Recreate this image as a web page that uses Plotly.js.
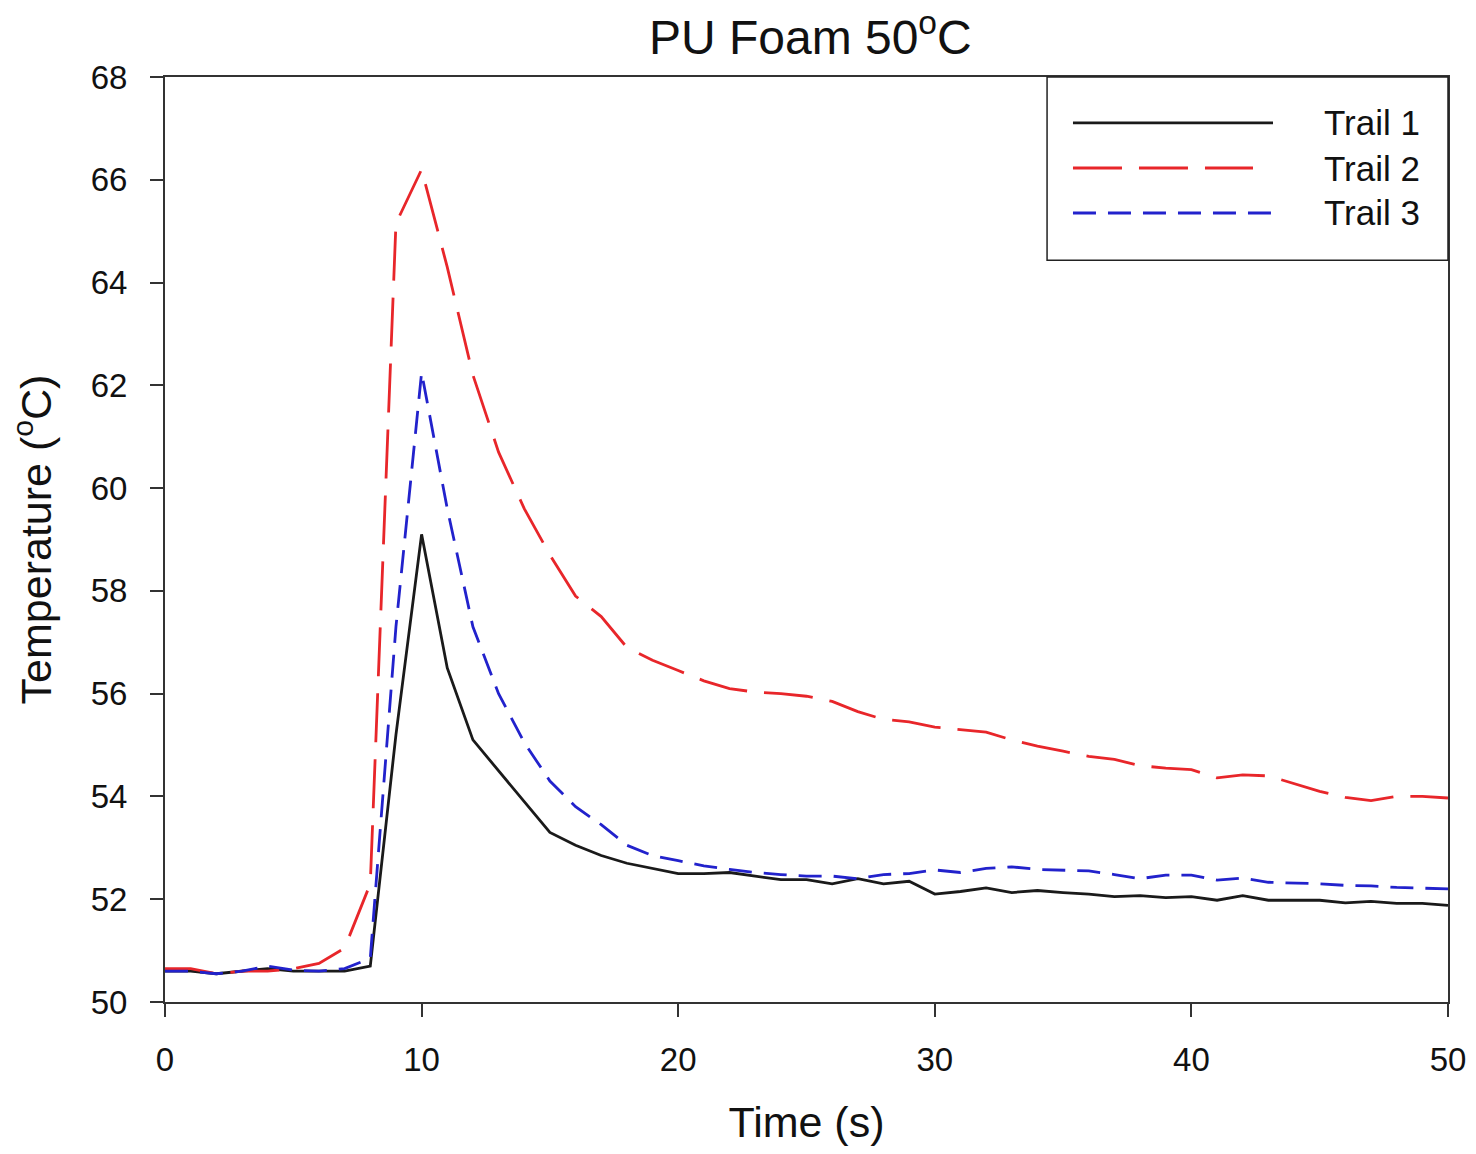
<!DOCTYPE html>
<html>
<head>
<meta charset="utf-8">
<script src="https://cdn.plot.ly/plotly-3.0.1.min.js"></script>
<style>html,body{margin:0;padding:0;background:#fff;}#chart{width:1476px;height:1154px;}</style>
</head>
<body>
<div id="chart"></div>
<script>
const time = [0,1,2,3,4,5,6,7,8,9,10,11,12,13,14,15,16,17,18,19,20,21,22,23,24,25,26,27,28,29,30,31,32,33,34,35,36,37,38,39,40,41,42,43,44,45,46,47,48,49,50];
const trail1 = [50.6,50.6,50.55,50.6,50.65,50.6,50.6,50.6,50.7,55.2,59.1,56.5,55.1,54.5,53.9,53.3,53.05,52.85,52.7,52.6,52.5,52.5,52.52,52.45,52.38,52.38,52.3,52.4,52.3,52.35,52.1,52.15,52.22,52.13,52.17,52.13,52.1,52.05,52.07,52.03,52.05,51.98,52.07,51.98,51.98,51.98,51.93,51.96,51.92,51.92,51.88];
const trail2 = [50.65,50.65,50.55,50.6,50.6,50.65,50.75,51.05,52.3,65.15,66.2,64.3,62.2,60.7,59.6,58.7,57.9,57.5,56.9,56.65,56.45,56.25,56.1,56.03,56.0,55.95,55.85,55.65,55.5,55.45,55.35,55.3,55.25,55.1,54.98,54.88,54.78,54.72,54.6,54.55,54.52,54.36,54.42,54.4,54.25,54.1,53.98,53.92,54.0,54.0,53.97];
const trail3 = [50.6,50.6,50.55,50.6,50.7,50.62,50.6,50.65,50.85,57.3,62.25,59.6,57.3,56.0,55.05,54.3,53.8,53.45,53.05,52.85,52.75,52.65,52.58,52.52,52.48,52.45,52.45,52.4,52.48,52.5,52.57,52.52,52.6,52.63,52.58,52.57,52.55,52.48,52.4,52.47,52.47,52.37,52.41,52.33,52.32,52.3,52.27,52.26,52.23,52.21,52.2];
const names = ['Trail 1','Trail 2','Trail 3'];
const colors = ['#1a1a1a','#e8262a','#2222cc'];
const dashes = ['solid','49px,17px','23px,12px'];
const series = [trail1, trail2, trail3];

const traces = series.map((s,i)=>({
  x: time, y: s, type:'scatter', mode:'lines', name: names[i],
  line:{color:colors[i], width:2.8, dash:dashes[i]}, showlegend:false
}));

// custom legend box (layout decoration)
const legY = [0.9503, 0.9016, 0.853];
const legEnd = [0.8636, 0.848, 0.862];
const shapes = [{type:'rect', xref:'paper', yref:'paper', x0:0.6875, x1:1, y0:0.802, y1:1, line:{color:'#222', width:1.5}, fillcolor:'rgba(255,255,255,0)'}];
const annotations = [];
names.forEach((n,i)=>{
  shapes.push({type:'line', xref:'paper', yref:'paper', x0:0.7077, x1:legEnd[i], y0:legY[i], y1:legY[i], line:{color:colors[i], width:2.8, dash:dashes[i]}});
  annotations.push({xref:'paper', yref:'paper', x:0.9018, y:legY[i], xanchor:'left', yanchor:'middle', text:n, showarrow:false, font:{size:35, color:'#111'}});
});

const layout = {
  width:1476, height:1154,
  margin:{l:165, r:28, t:77, b:152},
  paper_bgcolor:'#fff', plot_bgcolor:'#fff',
  font:{family:'Liberation Sans, Arial, sans-serif', color:'#111'},
  title:{text:'PU Foam 50<sup>o</sup>C', x:0.549, xref:'container', xanchor:'center', y:0.968, yanchor:'middle', font:{size:48, color:'#111'}},
  xaxis:{range:[0,50], tickvals:[0,10,20,30,40,50], ticks:'outside', ticklen:13, tickwidth:2, tickcolor:'#333',
    ticklabelstandoff:14,
    showline:true, linecolor:'#333', linewidth:2, mirror:true, showgrid:false, zeroline:false,
    tickfont:{size:33}, title:{text:'Time (s)', font:{size:43}, standoff:30}},
  yaxis:{range:[50,68], tickvals:[50,52,54,56,58,60,62,64,66,68], ticks:'outside', ticklen:13, tickwidth:2, tickcolor:'#333',
    ticklabelstandoff:16,
    showline:true, linecolor:'#333', linewidth:2, mirror:true, showgrid:false, zeroline:false,
    tickfont:{size:33}, title:{text:'Temperature (<sup>o</sup>C)', font:{size:43}, standoff:26}},
  shapes: shapes, annotations: annotations
};
Plotly.newPlot('chart', traces, layout, {displayModeBar:false, staticPlot:true});
</script>
</body>
</html>
